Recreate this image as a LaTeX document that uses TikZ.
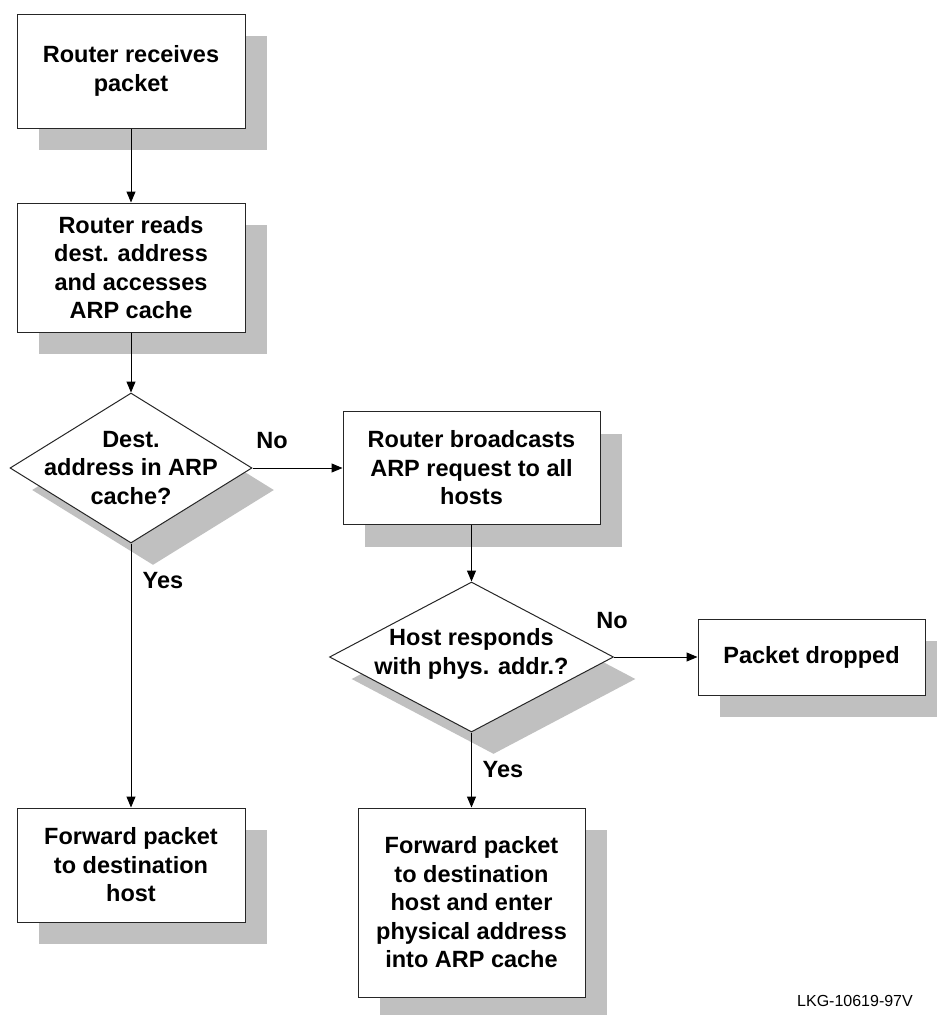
\documentclass[tikz,border=0pt]{standalone}
\usepackage{fontspec}
\setmainfont{Liberation Sans}
\usetikzlibrary{shapes.geometric,shadows,arrows.meta,positioning}
\definecolor{shade}{RGB}{192,192,192}
\tikzset{
  base/.style={draw=black!85,line width=1pt,fill=white,inner sep=0pt,
    drop shadow={shadow xshift=22pt,shadow yshift=-22pt,fill=shade,opacity=1}},
  stepbox/.style={base,rectangle,align=center,font=\fontsize{23.5}{28.5}\selectfont\bfseries},
  decision/.style={base,diamond},
  asktext/.style={align=center,inner sep=0pt,font=\fontsize{23.5}{28.5}\selectfont\bfseries},
  answer/.style={inner sep=0pt,font=\fontsize{23.5}{28.5}\selectfont\bfseries},
  flow/.style={-{Triangle[length=11pt,width=9pt]},line width=1pt}
}
\begin{document}
\begin{tikzpicture}[x=1pt,y=-1pt]
  \useasboundingbox (0,0) rectangle (937,1015);
  \node[stepbox,minimum width=228pt,minimum height=114pt] (recv) at (131,71) {Router receives\\packet};
  \node[stepbox,minimum width=228pt,minimum height=129pt] (read) at (131,267.5) {Router reads\\dest. address\\and accesses\\ARP cache};
  \node[decision,minimum width=242pt,minimum height=150pt] (ask) at (131,468) {};
  \node[asktext] (askt) at (ask) {Dest.\\address in ARP\\cache?};
  \node[stepbox,minimum width=257pt,minimum height=113pt] (bcast) at (471.5,468) {Router broadcasts\\ARP request to all\\hosts};
  \node[decision,minimum width=284pt,minimum height=150pt] (reply) at (471.5,657) {};
  \node[asktext] (replyt) at (471.5,654) {Host responds\\with phys. addr.?};
  \node[stepbox,minimum width=227pt,minimum height=76pt] (drop) at (811.5,657) {Packet dropped};
  \node[stepbox,minimum width=228pt,minimum height=114pt] (fwd) at (131,865) {Forward packet\\to destination\\host};
  \node[stepbox,minimum width=227pt,minimum height=189pt] (fwdarp) at (471.5,902.5) {Forward packet\\to destination\\host and enter\\physical address\\into ARP cache};
  \foreach \a/\b in {recv.south/read.north,read.south/ask.north,ask.east/bcast.west,
    bcast.south/reply.north,reply.east/drop.west,ask.south/fwd.north,reply.south/fwdarp.north}
    \draw[flow] (\a) -- (\b);
  \node[answer] (no1) at (272,441) {No};
  \node[answer] (yes1) at (163,581) {Yes};
  \node[answer] (no2) at (612,621) {No};
  \node[answer] (yes2) at (503,770) {Yes};
  \node[font=\fontsize{16}{18}\selectfont] (tag) at (855,1001) {LKG-10619-97V};
\end{tikzpicture}
\end{document}
